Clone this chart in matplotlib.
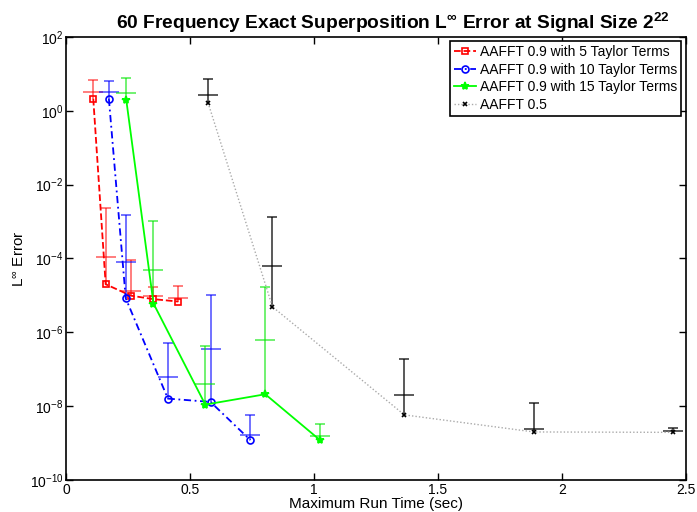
import numpy as np
import matplotlib
matplotlib.use('Agg')
import matplotlib.pyplot as plt
from matplotlib.ticker import FixedLocator, NullLocator, LogFormatterSciNotation

plt.rcParams['font.family'] = ['Liberation Sans', 'DejaVu Sans']
plt.rcParams['mathtext.default'] = 'regular'

# values (run time in sec, L-inf error)
labels = ['AAFFT 0.9 with 5 Taylor Terms',
          'AAFFT 0.9 with 10 Taylor Terms',
          'AAFFT 0.9 with 15 Taylor Terms',
          'AAFFT 0.5']

t5 = [0.110, 0.160, 0.262, 0.353, 0.453]
e5_min = [2.1, 2.0e-5, 9.8e-6, 7.9e-6, 6.8e-6]
e5_mean = [3.2, 1.07e-4, 1.35e-5, 9.5e-6, 8.7e-6]
e5_max = [6.6, 2.3e-3, 9.1e-5, 1.7e-5, 1.8e-5]

t10 = [0.173, 0.241, 0.411, 0.583, 0.744]
e10_min = [2.1, 8.3e-6, 1.6e-8, 1.3e-8, 1.2e-9]
e10_mean = [3.2, 8.1e-5, 6.2e-8, 3.5e-7, 1.7e-9]
e10_max = [6.2, 1.5e-3, 5.2e-7, 1.0e-5, 5.8e-9]

t15 = [0.243, 0.353, 0.562, 0.804, 1.025]
e15_min = [2.0, 6.0e-6, 1.1e-8, 2.1e-8, 1.2e-9]
e15_mean = [3.1, 4.8e-5, 4.1e-8, 6.0e-7, 1.6e-9]
e15_max = [7.6, 1.05e-3, 4.3e-7, 1.7e-5, 3.2e-9]

t05 = [0.573, 0.833, 1.365, 1.888, 2.450]
e05_min = [1.66, 4.9e-6, 5.8e-9, 2.0e-9, 1.95e-9]
e05_mean = [2.6, 6.2e-5, 2.0e-8, 2.4e-9, 2.15e-9]
e05_max = [7.3, 1.35e-3, 1.9e-7, 1.2e-8, 2.6e-9]

fig = plt.figure(figsize=(6.97, 5.12), dpi=100)
ax = fig.add_axes([0.0947, 0.0625, 0.889, 0.8655])


def draw(t, emin, emean, emax, color, bar_color, bar_alpha, ls, marker, ms, mfc, label, lcolor=None, lw=1.3):
    # bar from min up to max, cap at max, wide tick at mean
    ax.vlines(t, emin, emax, colors=bar_color, alpha=bar_alpha, lw=1.3, zorder=2)
    ax.plot(t, emax, ls='none', marker='_', ms=7, mew=1.3, color=bar_color, alpha=bar_alpha, zorder=2)
    ax.plot(t, emean, ls='none', marker='_', ms=15, mew=1.3, color=bar_color, alpha=bar_alpha, zorder=2)
    ax.plot(t, emin, ls=ls, color=lcolor or color, lw=lw, marker=marker, ms=ms,
            mfc=mfc, mec=color, mew=1.2, label=label, zorder=3)


draw(t5, e5_min, e5_mean, e5_max, 'red', 'red', 0.55, '--', 's', 4, 'none', labels[0])
draw(t10, e10_min, e10_mean, e10_max, 'blue', 'blue', 0.6, (0, (4, 2, 1, 2)), 'o', 5, 'none', labels[1])
draw(t15, e15_min, e15_mean, e15_max, '#00ff00', '#00e600', 0.6, '-', '*', 6, '#00ff00', labels[2])
draw(t05, e05_min, e05_mean, e05_max, 'black', 'black', 0.7, (0, (1, 1.5)), 'x', 3, 'black', labels[3],
     lcolor='#aaaaaa', lw=1.0)

ax.set_yscale('log')
ax.set_xlim(0, 2.5)
ax.set_ylim(1e-10, 1e2)
ax.yaxis.set_major_locator(FixedLocator([1e-10, 1e-8, 1e-6, 1e-4, 1e-2, 1e0, 1e2]))
ax.yaxis.set_minor_locator(NullLocator())
ax.yaxis.set_major_formatter(LogFormatterSciNotation())
ax.set_xticks([0, 0.5, 1, 1.5, 2, 2.5])
ax.set_xticklabels(['0', '0.5', '1', '1.5', '2', '2.5'])
ax.tick_params(direction='in', top=True, right=True, labelsize=10, length=5, width=1, pad=2)
for s in ax.spines.values():
    s.set_linewidth(1.2)

ax.set_xlabel('Maximum Run Time (sec)', fontsize=11, labelpad=0)
ax.set_ylabel(r'L$^\infty$ Error', fontsize=11, labelpad=2)
ax.set_title(r'60 Frequency Exact Superposition L$^\infty$ Error at Signal Size 2$^{22}$',
             fontsize=13.8, fontweight='bold', pad=6, x=0.527)

leg = ax.legend(loc='upper right', fontsize=10, handlelength=1.6, handletextpad=0.3,
                borderpad=0.3, labelspacing=0.25, borderaxespad=0.3, fancybox=False,
                framealpha=1)
leg.get_frame().set_edgecolor('black')
leg.get_frame().set_linewidth(1.2)

fig.savefig('out.png', dpi=100)
